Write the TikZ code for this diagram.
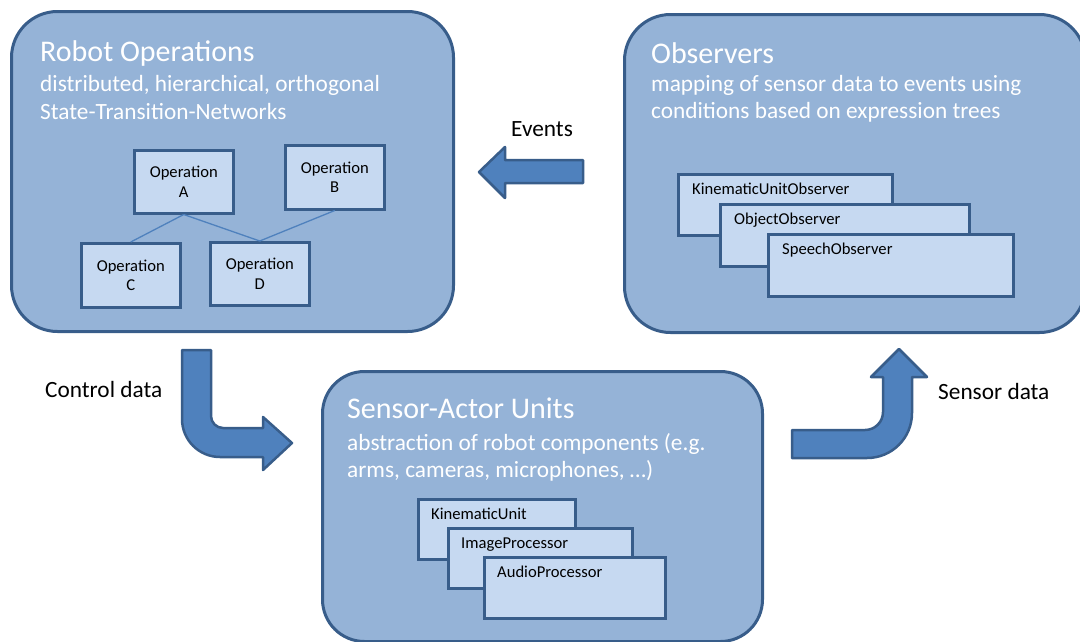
\documentclass[tikz,border=0pt]{standalone}
\usepackage{fontspec}
\setmainfont{Carlito}
\definecolor{boxfill}{HTML}{95B3D7}
\definecolor{boxdraw}{HTML}{385D8A}
\definecolor{arrowfill}{HTML}{4F81BD}
\definecolor{cardfill}{HTML}{C6D9F1}
\tikzset{
 bigbox/.style={draw=boxdraw, fill=boxfill, line width=3pt, rounded corners=46pt, anchor=north west, inner sep=0pt},
 card/.style={draw=boxdraw, fill=cardfill, line width=2.5pt, anchor=north west, inner sep=0pt},
 optext/.style={font=\fontsize{16.6}{19.5}\selectfont, align=center},
 cardtext/.style={font=\fontsize{16.6}{19.5}\selectfont, anchor=base west, inner sep=0pt},
 titletext/.style={text=white, font=\fontsize{30}{36}\selectfont, anchor=base west, inner sep=0pt},
 subtext/.style={text=white, font=\fontsize{23.3}{28}\selectfont, anchor=base west, inner sep=0pt},
 blockarrow/.style={draw=boxdraw, fill=arrowfill, line width=2.5pt, line join=round},
 lbl/.style={font=\fontsize{23.3}{28}\selectfont, anchor=base west, inner sep=0pt},
 link/.style={draw=arrowfill, line width=1.3pt},
}
\begin{document}
\begin{tikzpicture}[x=1pt,y=-1pt]
\useasboundingbox (0,0) rectangle (1080,641);
\clip (0,0) rectangle (1080,641);

% Robot Operations
\node[bigbox, minimum width=442pt, minimum height=320pt] (robot) at (10,10) {};
\node[titletext] (robotT) at (40,61) {Robot Operations};
\node[subtext] (robotS1) at (40,91) {distributed, hierarchical, orthogonal};
\node[subtext] (robotS2) at (40,119) {State-Transition-Networks};

\node[card, minimum width=99pt, minimum height=63pt, optext] (opA) at (133,149) {Operation\\A};
\node[card, minimum width=99pt, minimum height=64pt, optext] (opB) at (284,144) {Operation\\B};
\node[card, minimum width=99pt, minimum height=64pt, optext] (opC) at (80,242) {Operation\\C};
\node[card, minimum width=99pt, minimum height=63pt, optext] (opD) at (209,241) {Operation\\D};
\draw[link] (opA.south) -- (opC.north);
\draw[link] (opA.south) -- (opD.north);
\draw[link] (opB.south) -- (opD.north);

% Observers
\node[bigbox, minimum width=461pt, minimum height=318pt] (obs) at (623,13) {};
\node[titletext] (obsT) at (651,63) {Observers};
\node[subtext] (obsS1) at (651,91) {mapping of sensor data to events using};
\node[subtext] (obsS2) at (651,118) {conditions based on expression trees};

\node[card, minimum width=214pt, minimum height=61pt] (kuo) at (677,173) {};
\node[cardtext] (kuoT) at ([shift={(15,21)}]kuo.north west) {KinematicUnitObserver};
\node[card, minimum width=249pt, minimum height=62pt] (oo) at (719,203) {};
\node[cardtext] (ooT) at ([shift={(15,21)}]oo.north west) {ObjectObserver};
\node[card, minimum width=245pt, minimum height=62pt] (so) at (767,233) {};
\node[cardtext] (soT) at ([shift={(15,21)}]so.north west) {SpeechObserver};

% Sensor-Actor Units
\node[bigbox, rounded corners=42pt, minimum width=440pt, minimum height=270pt] (sau) at (321,370) {};
\node[titletext] (sauT) at (347,418) {Sensor-Actor Units};
\node[subtext] (sauS1) at (347,450) {abstraction of robot components (e.g.};
\node[subtext] (sauS2) at (347,477) {arms, cameras, microphones, \dots)};

\node[card, minimum width=157pt, minimum height=60pt] (ku) at (417,498) {};
\node[cardtext] (kuT) at ([shift={(14,21)}]ku.north west) {KinematicUnit};
\node[card, minimum width=184pt, minimum height=60pt] (ip) at (447,527) {};
\node[cardtext] (ipT) at ([shift={(14,21)}]ip.north west) {ImageProcessor};
\node[card, minimum width=181pt, minimum height=61pt] (ap) at (483,556) {};
\node[cardtext] (apT) at ([shift={(14,21)}]ap.north west) {AudioProcessor};

% Events arrow
\draw[blockarrow] (583,160) -- (505,160) -- (505,147) -- (479,172) -- (505,198) -- (505,183) -- (583,183) -- cycle;
\node[lbl] (events) at (511,136) {Events};

% Control data arrow
\draw[blockarrow] (182,350) -- (211,350) -- (211,416)
  .. controls (211,422.6) and (216.4,428) .. (223,428)
  -- (263,428) -- (263,417) -- (292,443) -- (263,470) -- (263,457) -- (220,457)
  .. controls (199,457) and (182,440) .. (182,419) -- cycle;
\node[lbl] (control) at (45,397) {Control data};

% Sensor data arrow
\draw[blockarrow] (792,430) -- (865,430)
  .. controls (875,430) and (883,422) .. (883,412)
  -- (883,377) -- (871,377) -- (899,349) -- (927,377) -- (912,377) -- (912,413)
  .. controls (912,438) and (892,458) .. (867,458)
  -- (792,458) -- cycle;
\node[lbl] (sensor) at (938,399) {Sensor data};
\end{tikzpicture}
\end{document}
